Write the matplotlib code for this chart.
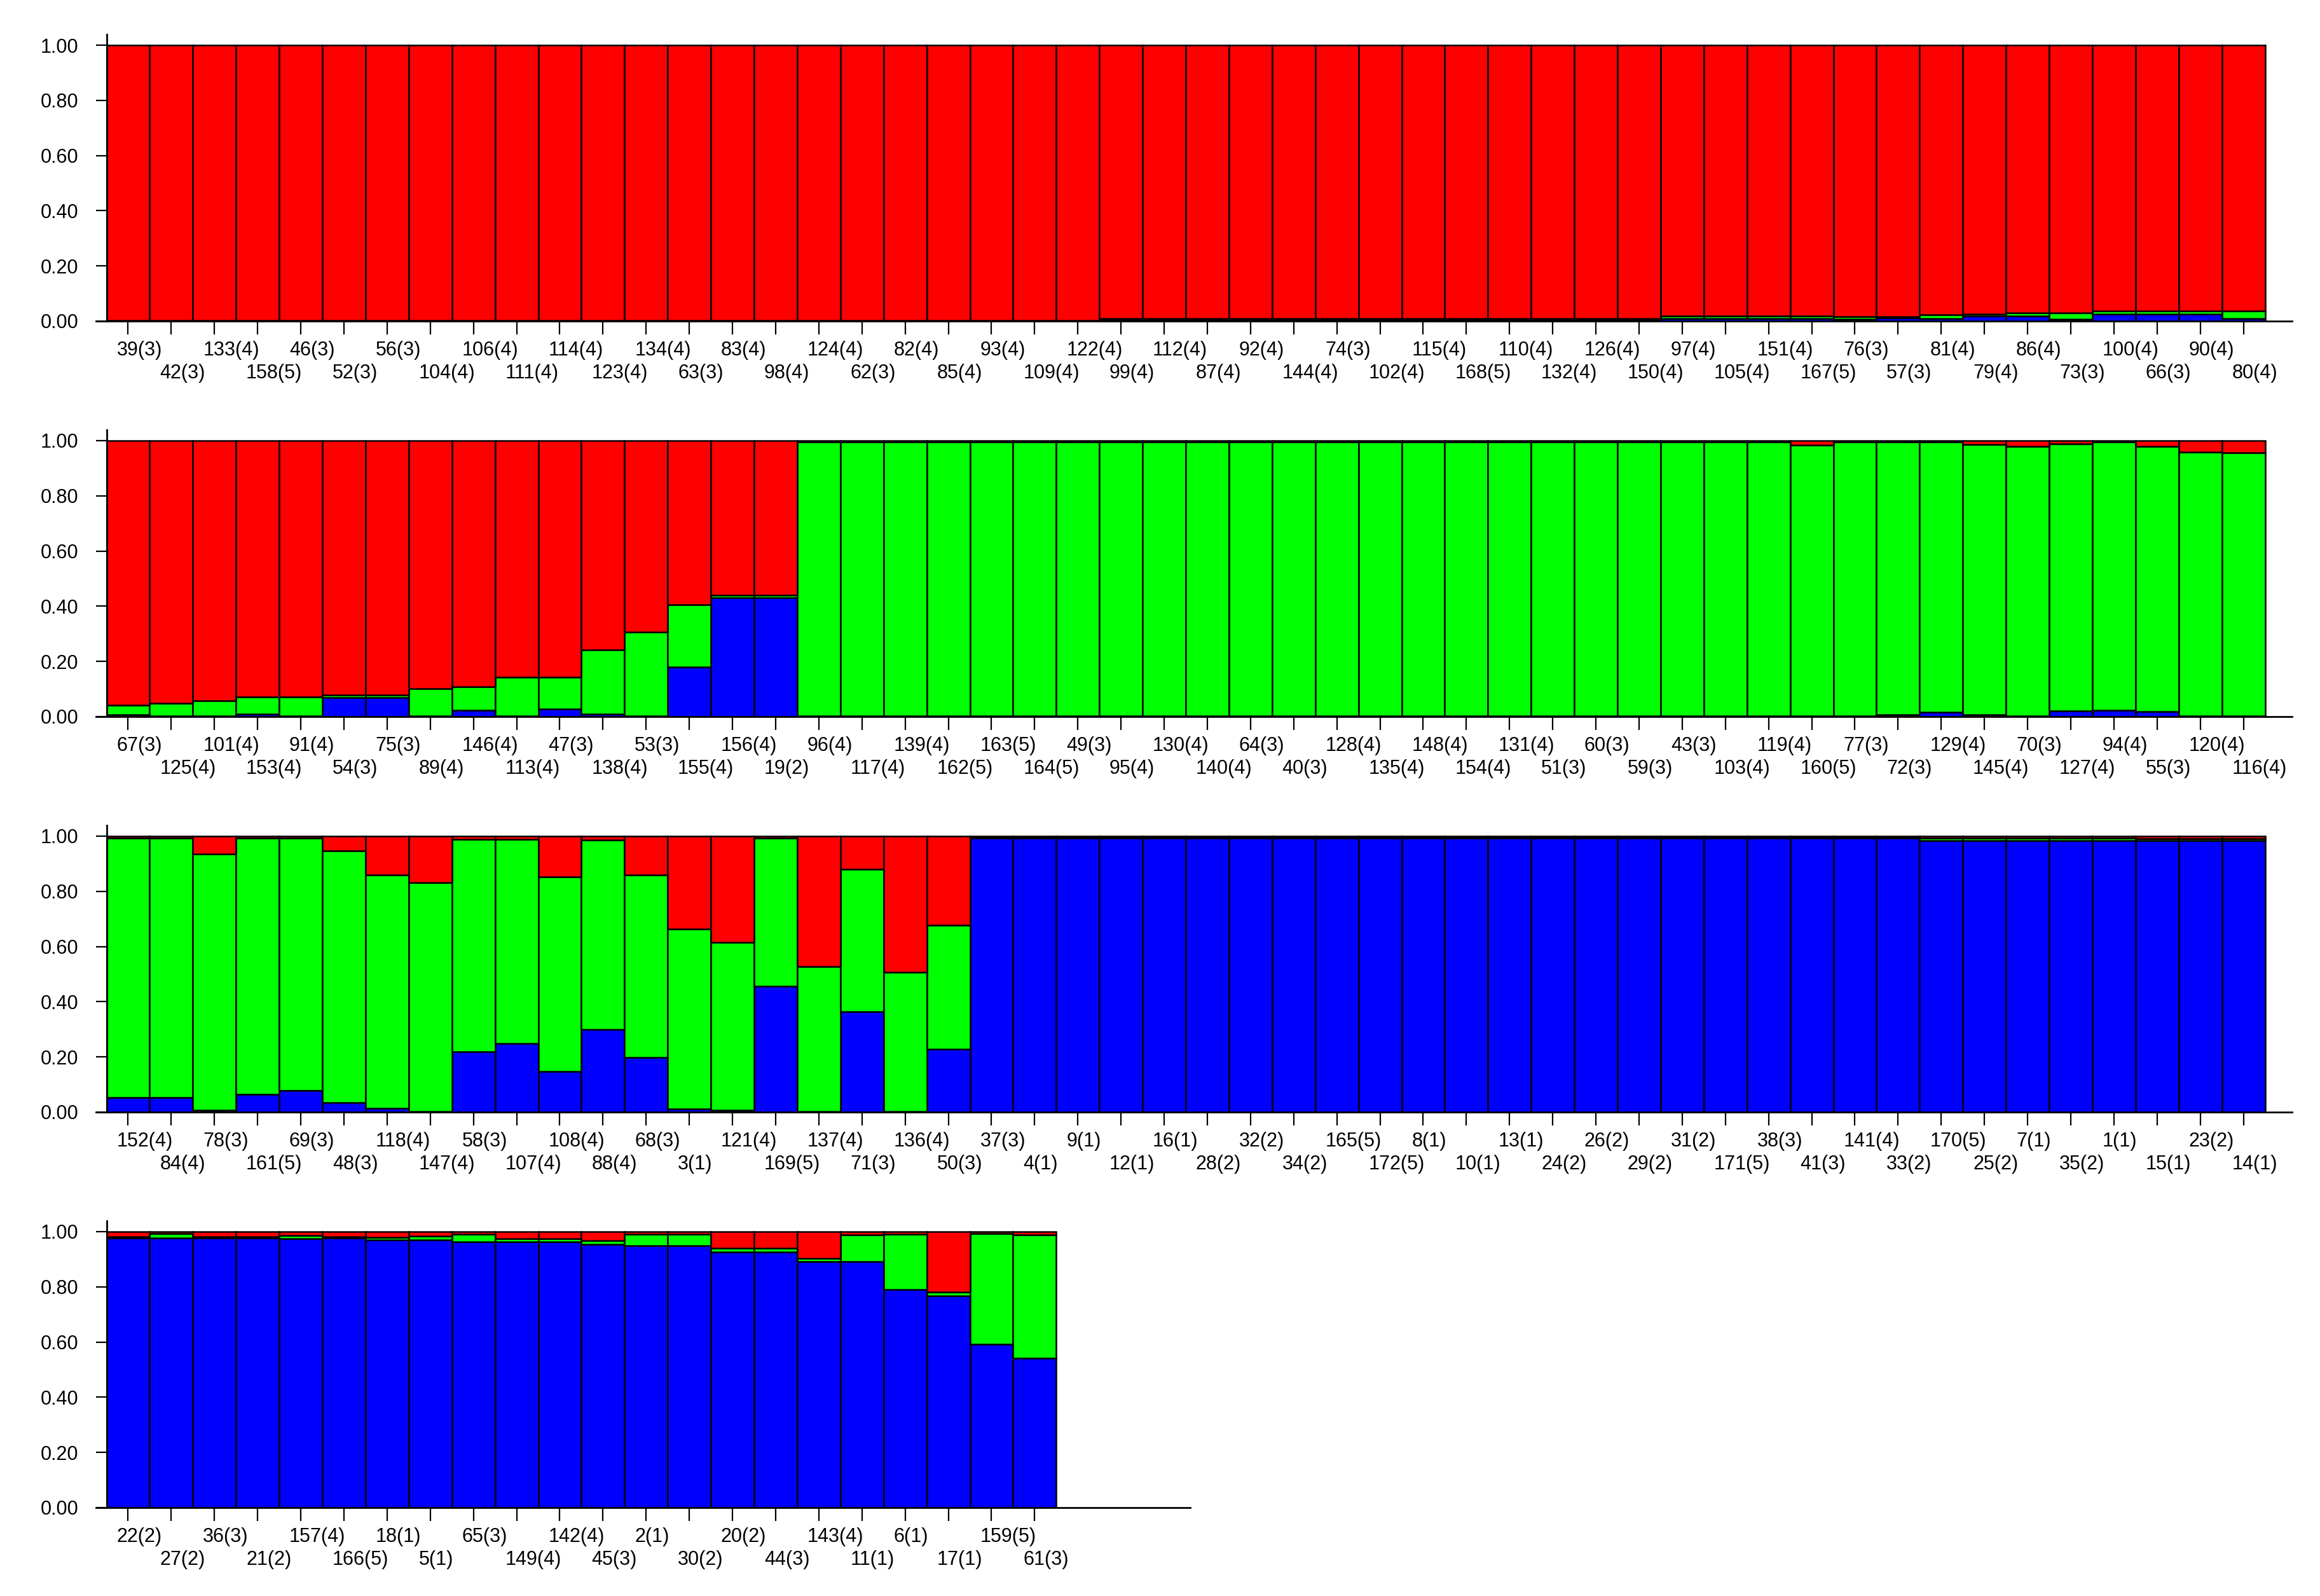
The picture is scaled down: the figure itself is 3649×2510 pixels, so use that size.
import numpy as np
import matplotlib
matplotlib.use("Agg")
import matplotlib.pyplot as plt

plt.rcParams['font.family'] = ['Liberation Sans', 'DejaVu Sans']

# individus (population) et proportions par groupe : bleu (bas), vert, rouge (haut)
labels_1 = ["39(3)", "42(3)", "133(4)", "158(5)", "46(3)", "52(3)", "56(3)", "104(4)", "106(4)", "111(4)",
            "114(4)", "123(4)", "134(4)", "63(3)", "83(4)", "98(4)", "124(4)", "62(3)", "82(4)", "85(4)",
            "93(4)", "109(4)", "122(4)", "99(4)", "112(4)", "87(4)", "92(4)", "144(4)", "74(3)", "102(4)",
            "115(4)", "168(5)", "110(4)", "132(4)", "126(4)", "150(4)", "97(4)", "105(4)", "151(4)", "167(5)",
            "76(3)", "57(3)", "81(4)", "79(4)", "86(4)", "73(3)", "100(4)", "66(3)", "90(4)", "80(4)"]
blue_1 = [0.001, 0.001, 0.001, 0.001, 0.001, 0.001, 0.001, 0.001, 0.001, 0.001,
          0.001, 0.001, 0.001, 0.001, 0.001, 0.001, 0.001, 0.001, 0.001, 0.001,
          0.001, 0.001, 0.001, 0.004, 0.004, 0.004, 0.004, 0.004, 0.004, 0.004,
          0.004, 0.004, 0.004, 0.004, 0.004, 0.004, 0.009, 0.009, 0.009, 0.009,
          0.006, 0.011, 0.010, 0.019, 0.018, 0.006, 0.026, 0.026, 0.026, 0.010]
green_1 = [0.001, 0.001, 0.001, 0.001, 0.001, 0.001, 0.001, 0.001, 0.001, 0.001,
           0.001, 0.001, 0.001, 0.001, 0.001, 0.001, 0.001, 0.001, 0.001, 0.001,
           0.001, 0.001, 0.001, 0.005, 0.005, 0.005, 0.005, 0.005, 0.005, 0.005,
           0.005, 0.005, 0.005, 0.005, 0.005, 0.005, 0.009, 0.009, 0.009, 0.009,
           0.011, 0.006, 0.014, 0.006, 0.013, 0.025, 0.012, 0.012, 0.012, 0.027]
red_1 = [0.998, 0.998, 0.998, 0.998, 0.998, 0.998, 0.998, 0.998, 0.998, 0.998,
         0.998, 0.998, 0.998, 0.998, 0.998, 0.998, 0.998, 0.998, 0.998, 0.998,
         0.998, 0.998, 0.998, 0.991, 0.991, 0.991, 0.991, 0.991, 0.991, 0.991,
         0.991, 0.991, 0.991, 0.991, 0.991, 0.991, 0.982, 0.982, 0.982, 0.982,
         0.983, 0.983, 0.976, 0.975, 0.969, 0.969, 0.962, 0.962, 0.962, 0.963]

labels_2 = ["67(3)", "125(4)", "101(4)", "153(4)", "91(4)", "54(3)", "75(3)", "89(4)", "146(4)", "113(4)",
            "47(3)", "138(4)", "53(3)", "155(4)", "156(4)", "19(2)", "96(4)", "117(4)", "139(4)", "162(5)",
            "163(5)", "164(5)", "49(3)", "95(4)", "130(4)", "140(4)", "64(3)", "40(3)", "128(4)", "135(4)",
            "148(4)", "154(4)", "131(4)", "51(3)", "60(3)", "59(3)", "43(3)", "103(4)", "119(4)", "160(5)",
            "77(3)", "72(3)", "129(4)", "145(4)", "70(3)", "127(4)", "94(4)", "55(3)", "120(4)", "116(4)"]
blue_2 = [0.008, 0.002, 0.002, 0.010, 0.002, 0.068, 0.068, 0.002, 0.022, 0.002,
          0.028, 0.010, 0.002, 0.179, 0.432, 0.432, 0.002, 0.002, 0.002, 0.002,
          0.002, 0.002, 0.002, 0.002, 0.002, 0.002, 0.002, 0.002, 0.002, 0.002,
          0.002, 0.002, 0.002, 0.002, 0.002, 0.002, 0.002, 0.002, 0.002, 0.002,
          0.002, 0.008, 0.015, 0.008, 0.002, 0.020, 0.024, 0.018, 0.002, 0.002]
green_2 = [0.033, 0.047, 0.056, 0.062, 0.070, 0.011, 0.011, 0.100, 0.087, 0.141,
           0.115, 0.233, 0.305, 0.227, 0.008, 0.008, 0.994, 0.994, 0.994, 0.994,
           0.994, 0.994, 0.994, 0.994, 0.994, 0.994, 0.994, 0.994, 0.994, 0.994,
           0.994, 0.994, 0.994, 0.994, 0.994, 0.994, 0.994, 0.994, 0.994, 0.983,
           0.994, 0.987, 0.980, 0.979, 0.978, 0.968, 0.971, 0.962, 0.956, 0.954]
red_2 = [0.959, 0.951, 0.942, 0.928, 0.928, 0.921, 0.921, 0.898, 0.891, 0.857,
         0.857, 0.757, 0.693, 0.594, 0.560, 0.560, 0.004, 0.004, 0.004, 0.004,
         0.004, 0.004, 0.004, 0.004, 0.004, 0.004, 0.004, 0.004, 0.004, 0.004,
         0.004, 0.004, 0.004, 0.004, 0.004, 0.004, 0.004, 0.004, 0.004, 0.015,
         0.004, 0.005, 0.005, 0.013, 0.020, 0.012, 0.005, 0.020, 0.042, 0.044]

labels_3 = ["152(4)", "84(4)", "78(3)", "161(5)", "69(3)", "48(3)", "118(4)", "147(4)", "58(3)", "107(4)",
            "108(4)", "88(4)", "68(3)", "3(1)", "121(4)", "169(5)", "137(4)", "71(3)", "136(4)", "50(3)",
            "37(3)", "4(1)", "9(1)", "12(1)", "16(1)", "28(2)", "32(2)", "34(2)", "165(5)", "172(5)",
            "8(1)", "10(1)", "13(1)", "24(2)", "26(2)", "29(2)", "31(2)", "171(5)", "38(3)", "41(3)",
            "141(4)", "33(2)", "170(5)", "25(2)", "7(1)", "35(2)", "1(1)", "15(1)", "23(2)", "14(1)"]
blue_3 = [0.054, 0.054, 0.008, 0.064, 0.078, 0.034, 0.013, 0.002, 0.220, 0.250,
          0.148, 0.300, 0.199, 0.012, 0.008, 0.456, 0.002, 0.363, 0.002, 0.228,
          0.992, 0.992, 0.992, 0.992, 0.992, 0.992, 0.992, 0.992, 0.992, 0.992,
          0.992, 0.992, 0.992, 0.992, 0.992, 0.992, 0.992, 0.992, 0.992, 0.992,
          0.992, 0.992, 0.983, 0.983, 0.983, 0.983, 0.983, 0.985, 0.985, 0.985]
green_3 = [0.940, 0.940, 0.928, 0.930, 0.916, 0.912, 0.847, 0.829, 0.768, 0.738,
           0.704, 0.687, 0.661, 0.652, 0.607, 0.538, 0.526, 0.517, 0.505, 0.450,
           0.004, 0.004, 0.004, 0.004, 0.004, 0.004, 0.004, 0.004, 0.004, 0.004,
           0.004, 0.004, 0.004, 0.004, 0.004, 0.004, 0.004, 0.004, 0.004, 0.004,
           0.004, 0.004, 0.009, 0.009, 0.009, 0.009, 0.009, 0.006, 0.006, 0.006]
red_3 = [0.006, 0.006, 0.064, 0.006, 0.006, 0.054, 0.140, 0.169, 0.012, 0.012,
         0.148, 0.013, 0.140, 0.336, 0.385, 0.006, 0.472, 0.120, 0.493, 0.322,
         0.004, 0.004, 0.004, 0.004, 0.004, 0.004, 0.004, 0.004, 0.004, 0.004,
         0.004, 0.004, 0.004, 0.004, 0.004, 0.004, 0.004, 0.004, 0.004, 0.004,
         0.004, 0.004, 0.008, 0.008, 0.008, 0.008, 0.008, 0.009, 0.009, 0.009]

labels_4 = ["22(2)", "27(2)", "36(3)", "21(2)", "157(4)", "166(5)", "18(1)", "5(1)", "65(3)", "149(4)",
            "142(4)", "45(3)", "2(1)", "30(2)", "20(2)", "44(3)", "143(4)", "11(1)", "6(1)", "17(1)",
            "159(5)", "61(3)"]
blue_4 = [0.977, 0.978, 0.977, 0.977, 0.975, 0.977, 0.969, 0.969, 0.962, 0.962,
          0.962, 0.955, 0.949, 0.949, 0.927, 0.927, 0.892, 0.892, 0.790, 0.768,
          0.592, 0.541]
green_4 = [0.005, 0.014, 0.005, 0.005, 0.012, 0.005, 0.011, 0.014, 0.028, 0.013,
           0.013, 0.013, 0.041, 0.041, 0.013, 0.013, 0.011, 0.096, 0.200, 0.014,
           0.400, 0.447]
red_4 = [0.018, 0.008, 0.018, 0.018, 0.013, 0.018, 0.020, 0.017, 0.010, 0.025,
         0.025, 0.032, 0.010, 0.010, 0.060, 0.060, 0.097, 0.012, 0.010, 0.218,
         0.008, 0.012]

rows = [(labels_1, blue_1, green_1, red_1),
        (labels_2, blue_2, green_2, red_2),
        (labels_3, blue_3, green_3, red_3),
        (labels_4, blue_4, green_4, red_4)]

W, H = 3649, 2510
fig = plt.figure(figsize=(W / 100, H / 100), dpi=100)

bar_px = 67.9          # largeur d'une barre en pixels
x0_px = 167.5          # bord gauche de la premiere barre
row_h = 434            # hauteur 0 -> 1 en pixels
bottoms_px = [505, 1127, 1749, 2371]
right_lim = [50.13, 50.13, 50.13, 24.6]

for r, (labels, blue, green, red) in enumerate(rows):
    xmin, xmax = -0.75, right_lim[r]
    left = (x0_px + (xmin + 0.5) * bar_px) / W
    width = (xmax - xmin) * bar_px / W
    bottom = (H - bottoms_px[r]) / H
    height = 1.04 * row_h / H
    ax = fig.add_axes([left, bottom, width, height])

    x = np.arange(len(labels))
    b = np.array(blue)
    g = np.array(green)
    rd = np.array(red)
    kw = dict(width=1.0, edgecolor='black', linewidth=1.8)
    ax.bar(x, b, color='#0000FF', **kw)
    ax.bar(x, g, bottom=b, color='#00FF00', **kw)
    ax.bar(x, rd, bottom=b + g, color='#FF0000', **kw)

    ax.set_xlim(xmin, xmax)
    ax.set_ylim(0, 1.04)
    ax.spines['top'].set_visible(False)
    ax.spines['right'].set_visible(False)
    ax.spines['left'].set_position(('data', -0.5))
    ax.spines['left'].set_linewidth(2.0)
    ax.spines['bottom'].set_linewidth(2.0)
    ax.spines['left'].set_zorder(5)
    ax.spines['bottom'].set_zorder(5)

    ax.set_yticks([0, 0.2, 0.4, 0.6, 0.8, 1.0])
    ax.set_yticklabels(['0.00', '0.20', '0.40', '0.60', '0.80', '1.00'], fontsize=22)
    ax.tick_params(axis='y', length=12, width=1.6, pad=20)

    ax.set_xticks(x)
    ax.set_xticklabels([])
    ax.tick_params(axis='x', length=15, width=1.6)

    for i, lab in enumerate(labels):
        dy = -39 if i % 2 == 0 else -65
        ax.annotate(lab, xy=(i, 0), xycoords='data', xytext=(-13, dy),
                    textcoords='offset points', ha='left', va='baseline',
                    fontsize=22, annotation_clip=False)

fig.savefig('out.png', dpi=100, facecolor='white')
